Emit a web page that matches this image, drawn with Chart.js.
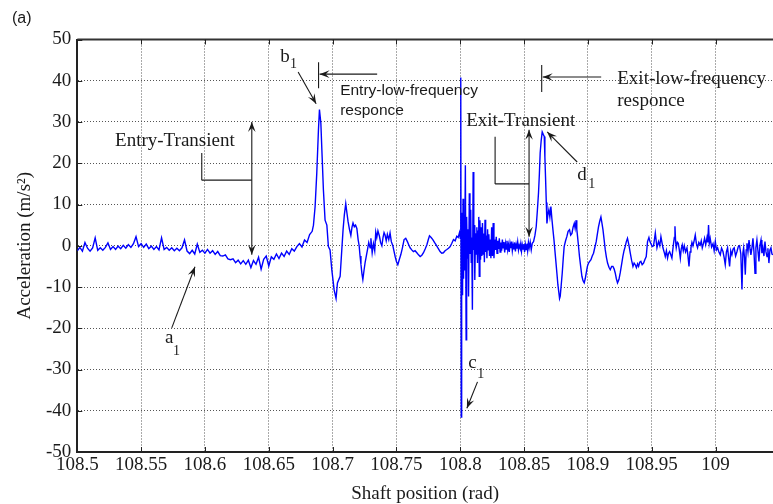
<!DOCTYPE html>
<html lang="en">
  <head>
    <meta charset="UTF-8" />
    <title>Acceleration vs shaft position</title>
    <script src="https://cdn.jsdelivr.net/npm/chart.js@4"></script>
    <style>
      body { margin: 0; background: #fff; }
      canvas { display: block; }
    </style>
  </head>
  <body>
    <canvas id="myChart" width="773" height="504"></canvas>

    <script>
      // DATA
      const shaftPos = [
        // quiet start
        108.500,108.502,108.504,108.506,108.508,108.510,108.512,108.514,108.516,108.518,
        108.520,108.522,108.524,108.526,108.528,108.530,108.532,108.534,108.536,108.538,
        108.540,108.542,108.544,108.546,108.548,108.550,108.552,108.554,108.556,108.558,
        108.560,108.562,108.564,108.566,108.568,108.570,108.572,108.574,108.576,108.578,
        108.580,108.582,108.584,108.586,108.588,108.590,108.592,108.594,108.596,
        // entry dip + b1 peak
        108.598,108.600,108.602,108.604,108.606,108.608,108.610,108.612,108.614,108.616,
        108.618,108.620,108.622,108.624,108.626,108.628,108.630,108.632,108.634,108.636,
        108.638,108.640,108.642,108.644,108.646,108.648,108.650,108.652,108.654,108.656,
        108.658,108.660,108.662,108.664,108.666,108.668,108.670,108.672,108.674,108.676,
        108.678,108.680,108.682,108.684,108.685,108.6863,108.6876,108.6889,108.6897,108.6908,
        108.6918,108.6928,108.6941,108.6955,108.6967,108.6980,108.6994,108.7012,108.7027,108.7038,
        // after entry
        108.7059,108.7070,108.7082,108.7092,108.7103,108.7112,108.7121,108.7132,108.7143,108.7152,
        108.7160,108.7170,108.7180,108.7190,108.7200,108.7208,108.7215,108.7222,108.7230,108.7237,
        108.7246,108.7255,108.7264,108.7273,108.7283,108.7294,108.7300,108.7310,108.7320,108.7330,
        108.7338,108.7346,108.7355,108.7367,108.7376,108.7386,108.7395,108.7403,108.7411,108.7420,
        108.7429,108.7440,108.7450,108.7460,108.7472,108.7480,108.7490,108.7500,108.7511,108.7522,
        108.7534,108.7547,108.7560,108.7573,108.7586,108.7597,108.7607,108.7620,108.7633,108.7646,
        108.7660,108.7673,108.7686,108.7699,108.7712,108.7725,108.7738,108.7750,108.7759,108.7772,
        108.7785,108.7798,108.7811,108.7826,108.7842,108.7855,108.7868,108.7881,108.7895,108.7908,
        108.7921,108.7934,108.7947,108.7960,108.7973,108.7984,108.7994,108.8000,
        // c1 impact
        108.8003,108.8005,108.8008,108.8011,108.8014,108.8018,108.8022,108.8026,108.8030,108.8034,
        108.8040,108.8046,108.8050,108.8055,108.8060,108.8065,108.8071,108.8076,108.8082,108.8086,
        108.8090,108.8095,108.8101,108.8106,108.8110,108.8114,108.8119,108.8124,108.8130,108.8135,
        108.8140,108.8145,108.8149,108.8154,108.8159,108.8164,108.8169,108.8174,108.8179,108.8184,
        108.8189,108.8194,108.8199,108.8204,108.8209,108.8214,108.8219,108.8224,108.8229,108.8234,
        108.8240,108.8246,108.8252,108.8258,108.8264,108.8270,108.8276,108.8282,108.8288,108.8294,
        108.8300,108.8306,108.8312,108.8318,108.8324,108.8330,108.8336,108.8342,108.8348,108.8354,
        108.8360,108.8366,108.8372,108.8378,108.8384,108.8390,108.8396,108.8402,108.8408,108.8414,
        108.8420,108.8426,108.8432,108.8438,108.8444,108.8450,108.8456,108.8462,108.8468,108.8474,
        108.8480,108.8486,108.8492,108.8498,108.8504,108.8510,108.8516,108.8522,108.8528,108.8534,
        // d1 peak and exit
        108.8540,108.8548,108.8556,108.8564,108.8574,108.8585,108.8595,108.8604,108.8613,108.8620,
        108.8626,108.8634,108.8642,108.8650,108.8658,108.8663,108.8668,108.8674,108.8679,108.8686,
        108.8694,108.8702,108.8710,108.8718,108.8726,108.8734,108.8741,108.8749,108.8757,108.8765,
        108.8773,108.8778,108.8783,108.8791,108.8799,108.8807,108.8814,108.8825,108.8835,108.8845,
        108.8856,108.8865,108.8875,108.8884,108.8893,108.8900,108.8908,108.8913,108.8919,108.8926,
        108.8934,108.8944,108.8953,108.8962,108.8971,108.8979,108.8987,108.8996,108.9005,108.9014,
        108.9024,108.9034,108.9044,108.9055,108.9065,108.9074,108.9083,108.9093,108.9102,108.9110,
        108.9118,108.9127,108.9136,108.9145,108.9154,108.9165,108.9175,108.9186,108.9196,108.9205,
        108.9214,108.9223,108.9232,108.9243,108.9253,108.9264,108.9274,108.9283,108.9292,108.9301,
        108.9310,108.9321,108.9332,108.9342,108.9353,108.9362,108.9371,108.9380,108.9389,108.9397,
        108.9406,108.9415,108.9425,108.9436,108.9446,108.9457,108.9467,108.9478,108.9486,108.9494,
        108.9504,108.9514,108.9521,108.9528,
        // noisy tail
        108.9541,108.9553,108.9563,108.9572,108.9580,108.9588,108.9597,108.9606,108.9615,108.9624,
        108.9632,108.9640,108.9649,108.9658,108.9665,108.9671,108.9677,108.9682,108.9687,108.9692,
        108.9700,108.9708,108.9716,108.9724,108.9731,108.9739,108.9747,108.9755,108.9765,108.9776,
        108.9784,108.9792,108.9800,108.9807,108.9815,108.9823,108.9832,108.9841,108.9850,108.9859,
        108.9869,108.9880,108.9888,108.9896,108.9905,108.9914,108.9923,108.9933,108.9939,108.9945,
        108.9951,108.9958,108.9969,108.9980,108.9989,108.9998,109.0007,109.0016,109.0027,109.0037,
        109.0047,109.0058,109.0067,109.0076,109.0085,109.0094,109.0102,109.0110,109.0119,109.0128,
        109.0137,109.0146,109.0157,109.0168,109.0178,109.0188,109.0198,109.0207,109.0214,109.0220,
        109.0227,109.0233,109.0240,109.0246,109.0254,109.0262,109.0270,109.0277,109.0285,109.0293,
        109.0301,109.0309,109.0316,109.0324,109.0332,109.0340,109.0348,109.0356,109.0363,109.0371,
        109.0379,109.0387,109.0395,109.0403,109.0410,109.0418,109.0426,109.0434,109.0442,109.0450
      ];

      const accel = [
        // quiet start
        -1.2,-0.4,-1.3,0.8,-0.6,-1.3,-0.5,1.9,-1.1,-0.5,
        -1.1,-0.4,0.7,-0.9,-0.2,-0.9,-0.1,-0.7,0.1,-0.6,
        0.3,-0.4,0.5,2.2,-0.2,0.5,-0.4,0.4,-0.7,-0.1,
        -0.9,-0.2,-1.0,1.9,-0.9,-0.4,-1.1,-0.5,-1.2,-0.6,
        -1.2,-0.5,1.4,-1.3,-1.9,-1.1,-2.0,0.4,-1.6,
        // entry dip + b1 peak
        -1.1,-1.8,-0.9,-1.8,-1.2,-2.1,-1.4,-2.4,-2.5,-2.2,
        -3.2,-3.4,-3.2,-4.1,-3.5,-4.4,-3.6,-4.5,-3.5,-5.3,
        -3.6,-4.5,-2.8,-5.7,-3.3,-2.5,-4.9,-2.7,-3.3,-2.0,
        -3.1,-1.8,-2.6,-1.3,-2.1,-0.7,-1.3,-0.2,0.5,-0.3,
        1.4,0.8,2.7,3.5,5.0,9.5,17.6,28.0,33.0,29.7,
        21.6,13.5,6.2,5.0,-0.2,-1.0,-5.9,-10.7,-12.8,-9.0,
        // after entry
        -7.4,-2.0,3.9,7.5,10.2,8.0,5.9,4.0,2.5,4.5,
        5.5,4.6,5.0,4.2,1.5,0.0,-2.5,-4.5,-6.8,-8.2,
        -6.0,-4.0,-2.5,-1.0,0.8,-0.5,1.8,-1.7,0.5,-1.2,
        3.3,2.0,3.6,2.3,0.8,0.0,2.0,3.2,2.6,1.2,
        2.8,1.5,3.1,1.0,0.0,-1.2,-2.6,-3.8,-4.6,-3.4,
        -2.2,-0.5,1.5,1.8,1.0,0.2,-0.5,-1.0,-1.4,-1.2,
        -1.7,-2.2,-2.6,-2.3,-1.7,-0.8,0.2,1.5,2.4,2.0,
        1.5,0.8,0.2,-0.6,-1.4,-1.8,-1.7,-1.2,-0.9,-0.6,
        -0.2,0.6,1.5,1.2,2.3,2.0,3.2,1.8,
        // c1 impact
        2.5,40.8,-41.5,-5.0,8.0,-12.0,11.4,-8.0,5.0,-6.0,
        19.5,-22.8,7.0,-3.0,4.0,-12.3,12.7,-2.0,8.7,-4.0,
        2.0,-15.5,17.9,-1.0,5.0,-8.3,3.0,-2.0,4.5,-4.2,
        3.5,7.0,-7.4,6.2,-3.4,4.5,-2.5,5.5,-2.0,3.0,
        -4.0,6.3,-1.5,2.5,-3.0,4.0,-1.0,2.8,-2.5,1.5,
        -3.0,4.5,-2.5,5.5,-3.0,1.5,-1.0,2.2,-1.8,1.2,
        -0.8,1.8,-1.5,0.8,-1.2,1.5,-0.5,0.9,-1.6,0.5,
        -0.8,1.2,-1.0,0.2,-1.5,0.6,-0.6,1.0,-1.2,0.2,
        -0.9,0.8,-1.4,0.3,-0.7,0.9,-1.0,0.1,-0.5,0.6,
        -1.3,0.2,-0.8,0.4,-1.5,0.3,-0.9,0.5,-1.2,0.8,
        // d1 peak and exit
        -0.5,0.9,-1.0,0.6,1.0,2.5,4.6,8.5,12.8,17.5,
        22.5,25.5,27.6,27.0,26.5,21.5,16.7,10.5,5.4,7.5,
        8.7,7.0,9.5,6.5,3.9,1.5,-1.0,-3.8,-6.6,-9.5,
        -11.5,-12.8,-12.3,-9.5,-6.6,-3.0,-0.2,1.2,2.2,3.5,
        3.9,2.6,3.0,4.5,5.4,4.2,6.2,4.0,2.2,0.0,
        -2.6,-5.2,-7.4,-8.5,-9.0,-8.0,-6.6,-5.0,-4.2,-3.8,
        -3.4,-2.5,-1.8,-0.3,1.0,2.8,4.6,6.0,7.0,5.5,
        3.9,1.5,-1.0,-2.8,-4.2,-5.2,-5.8,-5.0,-5.0,-5.6,
        -6.6,-8.0,-9.0,-8.2,-6.6,-4.5,-2.6,-1.2,-0.2,1.0,
        1.8,0.2,-1.8,-3.5,-5.0,-4.2,-4.6,-5.3,-4.4,-5.0,
        -4.0,-3.8,-4.6,-4.2,-3.4,-2.6,1.0,2.0,1.0,0.5,
        -0.2,0.0,1.5,3.1,
        // noisy tail
        -0.5,1.0,0.0,2.2,0.8,-0.5,-1.5,-2.6,-1.2,-3.0,
        -1.8,-1.4,-2.2,-3.0,-1.0,0.6,2.0,4.7,1.0,-0.5,
        0.9,0.6,-1.0,-3.0,-0.8,0.2,-1.2,0.0,-1.5,-0.5,
        -2.5,-5.0,-1.5,-0.5,0.8,0.0,1.2,2.6,0.5,-0.5,
        0.8,0.2,1.2,-0.5,0.5,1.8,0.3,2.0,0.8,5.0,
        0.6,1.8,-0.3,0.5,-1.2,1.0,-1.0,-0.5,-1.6,-2.2,
        -0.6,-1.4,-2.8,-4.6,-1.5,-0.5,-2.8,-5.0,-1.2,-2.2,
        -0.8,-0.5,-2.5,-1.4,-0.2,0.0,-2.0,-10.6,-1.8,-0.5,
        -3.0,-7.0,-1.0,0.6,-1.5,1.4,-0.8,-2.2,-0.5,1.8,
        -1.5,-6.7,-0.5,1.4,-1.2,-3.8,0.2,1.4,-1.8,-0.5,
        -2.5,1.0,-1.5,-2.6,-0.6,-4.2,-1.0,-0.5,-2.0,-2.2
      ];

      const xTicks = [108.5, 108.55, 108.6, 108.65, 108.7, 108.75, 108.8, 108.85, 108.9, 108.95, 109];
      const yTicks = [-50, -40, -30, -20, -10, 0, 10, 20, 30, 40, 50];

      const xLabel = 'Shaft position (rad)';
      const yLabel = 'Acceleration (m/s²)';

      // FONTS / COLOURS
      const serif = "'Liberation Serif', 'Times New Roman', serif";
      const sans = "'Liberation Sans', Arial, sans-serif";
      const ink = '#1a1a1a';

      // ANNOTATIONS (placed in data units)
      const notes = [
        { text: 'Entry-Transient', x: 108.5296, y: 24.2, font: '19px ' + serif },
        { text: 'Exit-Transient', x: 108.8046, y: 29.0, font: '19px ' + serif },
        { text: 'Entry-low-frequency', x: 108.7059, y: 36.5, font: '15.5px ' + sans },
        { text: 'responce', x: 108.7059, y: 31.7, font: '15.5px ' + sans },
        { text: 'Exit-low-frequency', x: 108.923, y: 39.2, font: '19px ' + serif },
        { text: 'responce', x: 108.923, y: 33.9, font: '19px ' + serif },
        { text: 'a', x: 108.5687, y: -23.6, font: '19px ' + serif },
        { text: '1', x: 108.575, y: -26.5, font: '14px ' + serif },
        { text: 'b', x: 108.6589, y: 44.6, font: '19px ' + serif },
        { text: '1', x: 108.6667, y: 43.1, font: '14px ' + serif },
        { text: 'c', x: 108.8062, y: -29.6, font: '19px ' + serif },
        { text: '1', x: 108.8133, y: -32.1, font: '14px ' + serif },
        { text: 'd', x: 108.8916, y: 15.9, font: '19px ' + serif },
        { text: '1', x: 108.9003, y: 14.0, font: '14px ' + serif }
      ];
      // plain lines [x1, y1, x2, y2]
      const segs = [
        [108.5975, 22.5, 108.5975, 15.9], [108.5975, 15.9, 108.6367, 15.9],
        [108.8273, 26.4, 108.8273, 15.0], [108.8273, 15.0, 108.8539, 15.0],
        [108.689, 44.5, 108.689, 38.2],
        [108.8638, 43.8, 108.8638, 37.3]
      ];
      // arrows: head at (x2, y2); both = double headed
      const arrows = [
        { p: [108.6367, -2.2, 108.6367, 30.0], both: true },
        { p: [108.8539, 2.2, 108.8539, 28.1], both: true },
        { p: [108.574, -19.9, 108.5922, -5.1] },
        { p: [108.673, 42.1, 108.6871, 34.4] },
        { p: [108.8135, -33.0, 108.8052, -39.4] },
        { p: [108.8916, 20.3, 108.8681, 27.6] },
        { p: [108.7349, 41.6, 108.6898, 41.6] },
        { p: [108.9104, 40.9, 108.8646, 40.9] }
      ];

      function head(ctx, x1, y1, x2, y2) {
        const a = Math.atan2(y2 - y1, x2 - x1);
        const len = 10, w = 3.8;
        ctx.beginPath();
        ctx.moveTo(x2, y2);
        ctx.lineTo(x2 - len * Math.cos(a) + w * Math.sin(a), y2 - len * Math.sin(a) - w * Math.cos(a));
        ctx.lineTo(x2 - 0.6 * len * Math.cos(a), y2 - 0.6 * len * Math.sin(a));
        ctx.lineTo(x2 - len * Math.cos(a) - w * Math.sin(a), y2 - len * Math.sin(a) + w * Math.cos(a));
        ctx.closePath();
        ctx.fill();
      }

      const decor = {
        id: 'decor',
        afterDatasetsDraw(chart) {
          const ctx = chart.ctx;
          const sx = chart.scales.x, sy = chart.scales.y;
          const area = chart.chartArea;
          const X = v => sx.getPixelForValue(v);
          const Y = v => sy.getPixelForValue(v);

          ctx.save();
          // top frame + inward tick marks
          ctx.strokeStyle = '#333';
          ctx.lineWidth = 2;
          ctx.beginPath();
          ctx.moveTo(area.left, area.top);
          ctx.lineTo(area.right, area.top);
          ctx.stroke();
          ctx.lineWidth = 1;
          ctx.strokeStyle = '#222';
          ctx.beginPath();
          xTicks.forEach(v => {
            const px = Math.round(X(v)) + 0.5;
            ctx.moveTo(px, area.bottom); ctx.lineTo(px, area.bottom - 5);
            ctx.moveTo(px, area.top); ctx.lineTo(px, area.top + 5);
          });
          yTicks.forEach(v => {
            const py = Math.round(Y(v)) + 0.5;
            ctx.moveTo(area.left, py); ctx.lineTo(area.left + 5, py);
          });
          ctx.stroke();

          // annotation lines
          ctx.strokeStyle = ink;
          ctx.fillStyle = ink;
          ctx.lineWidth = 1.1;
          segs.forEach(s => {
            ctx.beginPath();
            ctx.moveTo(X(s[0]), Y(s[1]));
            ctx.lineTo(X(s[2]), Y(s[3]));
            ctx.stroke();
          });
          arrows.forEach(a => {
            const [x1, y1, x2, y2] = [X(a.p[0]), Y(a.p[1]), X(a.p[2]), Y(a.p[3])];
            ctx.beginPath();
            ctx.moveTo(x1, y1);
            ctx.lineTo(x2, y2);
            ctx.stroke();
            head(ctx, x1, y1, x2, y2);
            if (a.both) head(ctx, x2, y2, x1, y1);
          });

          // annotation text
          ctx.textAlign = 'left';
          ctx.textBaseline = 'alphabetic';
          notes.forEach(n => {
            ctx.font = n.font;
            ctx.fillText(n.text, X(n.x), Y(n.y));
          });

          // panel tag
          ctx.font = '16px ' + sans;
          ctx.textBaseline = 'middle';
          ctx.fillText('(a)', 12, 19);
          ctx.restore();
        }
      };

      const points = shaftPos.map((x, i) => ({ x: x, y: accel[i] }));

      const config = {
        type: 'scatter',
        data: {
          datasets: [{
            data: points,
            showLine: true,
            borderColor: '#0000ff',
            backgroundColor: '#0000ff',
            borderWidth: 1.4,
            pointRadius: 0,
            tension: 0
          }]
        },
        options: {
          responsive: false,
          animation: false,
          devicePixelRatio: 1,
          layout: { padding: { top: 39.5, right: 0, bottom: 0, left: 0 } },
          plugins: { legend: { display: false }, tooltip: { enabled: false } },
          scales: {
            x: {
              type: 'linear',
              min: 108.5,
              max: 109.045,
              afterBuildTicks: s => { s.ticks = xTicks.map(v => ({ value: v })); },
              afterFit: s => { s.height = 52; },
              ticks: {
                autoSkip: false, maxRotation: 0, padding: 2, color: ink,
                font: { family: serif, size: 19 },
                callback: v => String(Math.round(v * 100) / 100)
              },
              grid: { color: '#555', lineWidth: 1, drawTicks: false },
              border: { display: true, color: '#222', width: 2, dash: [1, 2] },
              title: {
                display: true, text: xLabel, color: ink, padding: 0,
                font: { family: serif, size: 19, lineHeight: 1 }
              }
            },
            y: {
              type: 'linear',
              min: -50,
              max: 50,
              afterBuildTicks: s => { s.ticks = yTicks.map(v => ({ value: v })); },
              afterFit: s => { s.width = 77.3; },
              ticks: {
                padding: 6, color: ink,
                font: { family: serif, size: 19 },
                callback: v => String(v)
              },
              grid: { color: '#555', lineWidth: 1, drawTicks: false },
              border: { display: true, color: '#222', width: 2, dash: [1, 2] },
              title: {
                display: true, text: yLabel, color: ink, padding: { top: 15.5, bottom: 0 },
                font: { family: serif, size: 19, lineHeight: 1 }
              }
            }
          }
        },
        plugins: [decor]
      };

      // RENDERING THE CHART
      new Chart(document.getElementById('myChart'), config);
    </script>
  </body>
</html>
